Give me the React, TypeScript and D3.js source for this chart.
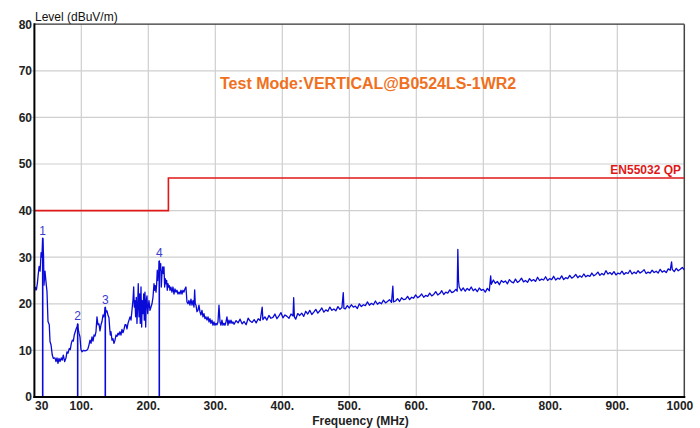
import React from "react";
import * as d3 from "d3";

const xTicks = [30, 100, 200, 300, 400, 500, 600, 700, 800, 900, 1000];
const xTickLabels = ["30", "100.", "200.", "300.", "400.", "500.", "600.", "700.", "800.", "900.", "1000"];
const yTicks = [0, 10, 20, 30, 40, 50, 60, 70, 80];
const gridX = [100, 200, 300, 400, 500, 600, 700, 800, 900];
const gridY = [10, 20, 30, 40, 50, 60, 70];

const limitFreq = [30, 230, 230, 1000];
const limitLevel = [40, 40, 47, 47];
const limitLabel = "EN55032 QP";

const markerFreq = [42.4, 94.6, 135.8, 216.4];
const markerLevel = [34.1, 15.7, 19.3, 29.2];
const markerLabel = ["1", "2", "3", "4"];

const title = "Test Mode:VERTICAL@B0524LS-1WR2";
const yTitle = "Level (dBuV/m)";
const xTitle = "Frequency (MHz)";

// measured trace [MHz, dBuV/m]
const trace: [number, number][] = [
  [30, 22.6], [31.5, 23.5], [33, 23], [34.5, 24.5], [35.5, 26], [37, 28], [38.5, 27], [40, 31], [41.3, 30], [42.4, 34.1],
  [43.6, 30.5], [44.3, 24], [45.8, 27], [47.3, 24.7], [48.8, 22.6], [50.3, 16.2], [52.2, 15.5], [53.3, 11.9], [54.8, 11.2], [56.7, 9],
  [58.2, 8.3], [60.7, 8.4], [62.2, 7.6], [63.7, 8.4], [65.2, 7.2], [66.7, 8.3], [68.2, 7.6], [70.1, 8.4], [71.6, 7.9], [73.1, 9],
  [75.2, 7.6], [77.2, 8.4], [78.6, 9.7], [80.1, 9.4], [82.1, 10.4], [83.6, 10.2], [85.1, 11.5], [86.6, 12.2], [88.1, 12], [89.5, 13.3],
  [91, 14], [92.5, 14.7], [94, 15.2], [94.6, 15.7], [95.1, 14.7], [96.6, 13.7], [98, 12.9], [99.5, 10.2], [101, 9.7], [103, 10],
  [105.5, 9.9], [108, 10], [110, 10.4], [111.5, 11.2], [113, 12.2], [114.5, 11.5], [116, 12.9], [117.5, 12], [119, 13.3], [120.5, 13.1],
  [121.9, 14], [123.4, 17.2], [124.9, 15.5], [126.4, 15.7], [127.9, 14.2], [129.4, 15.5], [130.9, 16.2], [132.4, 17.6], [133.9, 17.2], [135.8, 19.3],
  [136.8, 18.2], [138.3, 18.5], [139.8, 17.6], [141.3, 17], [142.4, 14.7], [143.3, 13.3], [144.3, 14], [145.8, 12.2], [147.3, 12.5], [148.8, 11.5],
  [150.3, 12.2], [151.8, 13.3], [153.3, 13], [154.8, 13.7], [156.2, 13.3], [157.7, 14], [159.2, 13.3], [160.7, 14.5], [162.2, 13.8], [163.7, 14.5],
  [165.2, 15.5], [166.7, 15.5], [168.2, 14.6], [169.7, 15.8], [171.2, 16.5], [172.7, 17.2], [174.2, 16.5], [175.6, 18.6], [177.1, 20.7], [178.2, 23.6],
  [179.1, 19.3], [180.1, 20.7], [181.1, 17.2], [182.1, 21.4], [183.1, 15.8], [184.2, 20], [185, 24.3], [186.1, 17.2], [187.1, 22.1], [188, 15.8],
  [189.1, 23.6], [190.1, 15], [191, 20.7], [192.1, 17.9], [193.1, 22.1], [194, 16.5], [195, 22.5], [196.1, 15], [197, 20.7], [198, 21.7],
  [199.1, 17.9], [200, 19.3], [201, 20.7], [202.5, 18.6], [204, 19.3], [205.5, 20], [207, 21.4], [208.5, 24.3], [209.5, 22.9], [210.4, 23.9],
  [211.5, 22.5], [212.5, 24.3], [213.4, 27.2], [214.4, 25], [215.5, 26.5], [216.4, 29.2], [217.4, 27.2], [218.5, 28.6], [219.4, 23.6], [220.4, 26.5],
  [221.5, 27.9], [222.4, 26.5], [223.4, 27.9], [224.4, 23.6], [225.3, 25.4], [226.4, 24.3], [227.4, 25], [228.3, 22.9], [229.4, 24.3], [230.4, 23.6],
  [231.3, 23.9], [232.4, 22.9], [233.8, 23.6], [235.3, 22.5], [236.8, 23.6], [238.3, 22.1], [239.8, 23.2], [241.3, 22.5], [242.8, 22.9], [244.3, 22.1],
  [245.8, 22.5], [247.3, 22.1], [248.8, 22.9], [250.3, 22.1], [251.8, 22.9], [253.2, 22.5], [254.7, 23.2], [256.2, 23.6], [257.7, 20.4], [259.2, 20],
  [260.7, 20.7], [262.2, 19.7], [263.7, 21], [265.2, 19.7], [266.7, 20.7], [268.2, 19.3], [269.2, 23], [270.1, 20], [271.2, 19.7], [272.6, 18.3],
  [274.1, 18.6], [275.6, 19.7], [277.1, 18.3], [278.6, 17.6], [280.1, 18.6], [281.6, 17.2], [283.1, 17.9], [284.6, 16.8], [286.1, 17.2], [287.6, 16.5],
  [289.1, 17.2], [290.6, 16.1], [292, 16.8], [293.5, 15.8], [295, 16.5], [296.5, 15.4], [298, 16.1], [299.5, 15.4], [301, 15.8], [302.5, 15.5],
  [304, 16.1], [305.5, 19.7], [307, 16.1], [308.5, 15.4], [309.9, 16.5], [311.4, 15.4], [312.9, 15.8], [314.4, 15.4], [315.9, 16.1], [317.4, 17.2],
  [318.9, 15.4], [320.4, 16.5], [321.9, 15.8], [323.4, 16.5], [324.9, 15.8], [326.4, 16.1],
  [328, 15.6], [331, 16.4], [334, 15.9], [337, 16.7], [340, 15.7], [343, 16.2], [346, 15.5], [349, 16.9], [352, 16.3], [355, 16.0],
  [358, 16.6], [361, 15.9], [364, 16.8], [367, 16.4], [370, 19.3], [371, 16.6], [374, 17.2], [377, 16.5], [380, 17.5], [383, 16.9],
  [386, 17.1], [389, 17.8], [392, 16.8], [395, 17.4], [398, 18.1], [401, 17.0], [404, 17.6], [407, 17.3], [410, 16.9], [413, 17.8],
  [416, 17.4], [417, 21.3], [418, 17.2], [420, 16.7], [423, 17.9], [426, 17.5], [429, 18.0], [432, 17.3], [435, 18.4], [438, 17.8],
  [441, 18.6], [444, 17.7], [447, 18.2], [450, 18.8], [453, 18.0], [456, 18.5], [459, 19.1], [462, 18.2], [465, 18.7], [468, 18.4],
  [471, 19.3], [474, 18.6], [477, 18.9], [480, 18.5], [483, 19.4], [486, 18.8], [489, 19.2], [491, 22.4], [492, 19.0], [494, 18.9],
  [497, 19.6], [500, 19.1], [503, 19.8], [506, 19.3], [509, 19.5], [512, 19.0], [515, 20.0], [518, 19.4], [521, 19.8], [524, 19.6],
  [527, 20.4], [530, 19.7], [533, 20.1], [536, 19.8], [539, 20.6], [542, 19.9], [545, 20.3], [548, 20.0], [551, 20.8], [554, 20.2],
  [557, 20.5], [560, 20.9], [563, 20.3], [565, 23.8], [566, 20.4], [569, 20.6], [572, 21.1], [575, 20.5], [578, 21.3], [581, 20.9],
  [584, 21.0], [587, 21.6], [590, 20.9], [593, 21.4], [596, 21.2], [599, 21.9], [602, 21.3], [605, 21.6], [608, 22.1], [611, 21.4],
  [614, 21.8], [617, 21.6], [620, 22.3], [623, 21.7], [626, 22.0], [629, 22.6], [632, 21.9], [635, 22.2], [638, 22.8], [641, 22.0],
  [644, 22.5], [647, 22.3], [650, 23.0], [653, 22.4], [656, 22.6], [659, 23.1], [661, 22.7], [662, 31.7], [663, 25.0], [664, 23.6],
  [667, 22.8], [670, 23.4], [673, 22.7], [676, 23.3], [679, 22.9], [682, 23.6], [685, 22.8], [688, 23.2], [691, 22.6], [694, 23.4],
  [697, 22.9], [700, 23.1], [703, 22.5], [706, 23.3], [709, 22.8], [711, 26.0], [712, 24.2], [715, 25.1], [718, 24.4], [721, 24.8],
  [724, 24.1], [727, 25.0], [730, 24.6], [733, 24.9], [736, 24.3], [739, 25.2], [742, 24.7], [745, 24.5], [748, 25.3], [751, 24.6],
  [754, 24.9], [757, 25.5], [760, 24.7], [763, 25.0], [766, 24.6], [769, 25.4], [772, 24.9], [775, 25.2], [778, 24.8], [781, 25.7],
  [784, 25.0], [787, 25.3], [790, 25.1], [793, 25.8], [796, 25.0], [799, 25.4], [802, 25.2], [805, 25.9], [808, 25.1], [811, 25.5],
  [814, 25.3], [817, 26.0], [820, 25.2], [823, 25.6], [826, 25.4], [829, 26.1], [832, 25.5], [835, 25.8], [838, 26.3], [841, 25.6],
  [844, 26.0], [847, 25.7], [850, 26.4], [853, 25.8], [856, 26.1], [859, 25.9], [862, 26.6], [865, 26.0], [868, 26.3], [871, 26.8],
  [874, 26.1], [877, 26.5], [880, 26.2], [883, 27.1], [886, 26.4], [889, 26.7], [892, 26.3], [895, 26.9], [898, 26.2], [901, 26.6],
  [904, 26.4], [907, 27.0], [910, 26.3], [913, 26.7], [916, 26.5], [919, 27.2], [922, 26.4], [925, 26.8], [928, 26.5], [931, 27.1],
  [934, 26.6], [937, 26.9], [940, 27.3], [943, 26.5], [946, 26.8], [949, 26.6], [952, 27.2], [955, 26.7], [958, 27.0], [961, 26.6],
  [964, 27.4], [967, 26.8], [970, 27.1], [973, 26.7], [976, 27.5], [979, 27.2], [981, 29.0], [982, 27.4], [985, 26.9], [988, 27.6],
  [991, 27.1], [994, 27.4], [997, 27.8], [1000, 27.3],
];

const FONT = "'Liberation Sans', Arial, sans-serif";

export default function App() {
  const W = 700, H = 428;
  const left = 34.4, right = 684.3, top = 24.2, bottom = 397;
  const x = d3.scaleLinear().domain([30, 1000]).range([left, right]);
  const y = d3.scaleLinear().domain([0, 80]).range([bottom, top]);

  const tracePath = d3.line<[number, number]>().x(d => x(d[0])).y(d => y(d[1]))(trace) || "";
  const limitPath = d3.line<number>().x((_, i) => x(limitFreq[i])).y(d => y(d))(limitLevel) || "";

  const blue = "#0a0ad8";
  return (
    <svg width={W} height={H} style={{ position: "absolute", left: 0, top: 0, background: "#fff" }} fontFamily={FONT}>
      <rect x={0} y={0} width={W} height={H} fill="#fff" />
      {gridX.map(f => (
        <line key={"gx" + f} x1={x(f)} x2={x(f)} y1={top} y2={bottom} stroke="#cfcfcf" strokeWidth={1.2} />
      ))}
      {gridY.map(v => (
        <line key={"gy" + v} x1={left - 3} x2={right} y1={y(v)} y2={y(v)} stroke="#cfcfcf" strokeWidth={1.2} />
      ))}
      <line x1={left} x2={right} y1={top} y2={top} stroke="#333" strokeWidth={1.2} />
      <line x1={right} x2={right} y1={top} y2={bottom} stroke="#444" strokeWidth={1.5} />

      <path d={limitPath} fill="none" stroke="#e01818" strokeWidth={1.6} />
      <text x={681} y={173.5} textAnchor="end" fontSize={12} fontWeight="bold" fill="#e01818">{limitLabel}</text>

      <defs>
        <clipPath id="plotclip">
          <rect x={left} y={top} width={right - left} height={bottom - top} />
        </clipPath>
      </defs>
      <g clipPath="url(#plotclip)">
        <path d={tracePath} fill="none" stroke={blue} strokeWidth={1.3} strokeLinejoin="round" />
      </g>
      {markerFreq.map((f, i) => (
        <g key={"m" + i}>
          <line x1={x(f)} x2={x(f)} y1={y(markerLevel[i])} y2={bottom} stroke={blue} strokeWidth={1.6} />
          <text x={x(f)} y={y(markerLevel[i]) - 3.5} textAnchor="middle" fontSize={12} fill="#3a3ad0">{markerLabel[i]}</text>
        </g>
      ))}

      <line x1={left} x2={left} y1={top - 1} y2={bottom + 1} stroke="#000" strokeWidth={2} />
      <line x1={left - 1} x2={right + 1} y1={bottom} y2={bottom} stroke="#000" strokeWidth={2} />

      {yTicks.map(v => (
        <text key={"yt" + v} x={32} y={y(v) + 4.3} textAnchor="end" fontSize={12} fontWeight="bold" fill="#222">{v}</text>
      ))}
      {xTicks.map((f, i) => {
        const anchor = i === 0 ? "start" : i === xTicks.length - 1 ? "end" : "middle";
        const px = i === 0 ? x(f) + 0.6 : i === xTicks.length - 1 ? x(f) + 9 : x(f);
        return (
          <text key={"xt" + f} x={px} y={410} textAnchor={anchor} fontSize={12} fontWeight="bold" fill="#222">{xTickLabels[i]}</text>
        );
      })}
      <text x={35} y={20.5} fontSize={12} fill="#111">{yTitle}</text>
      <text x={360.5} y={425} textAnchor="middle" fontSize={12} fontWeight="bold" fill="#222">{xTitle}</text>
      <text x={220} y={89} fontSize={16} fontWeight="bold" fill="#f07020">{title}</text>
    </svg>
  );
}
